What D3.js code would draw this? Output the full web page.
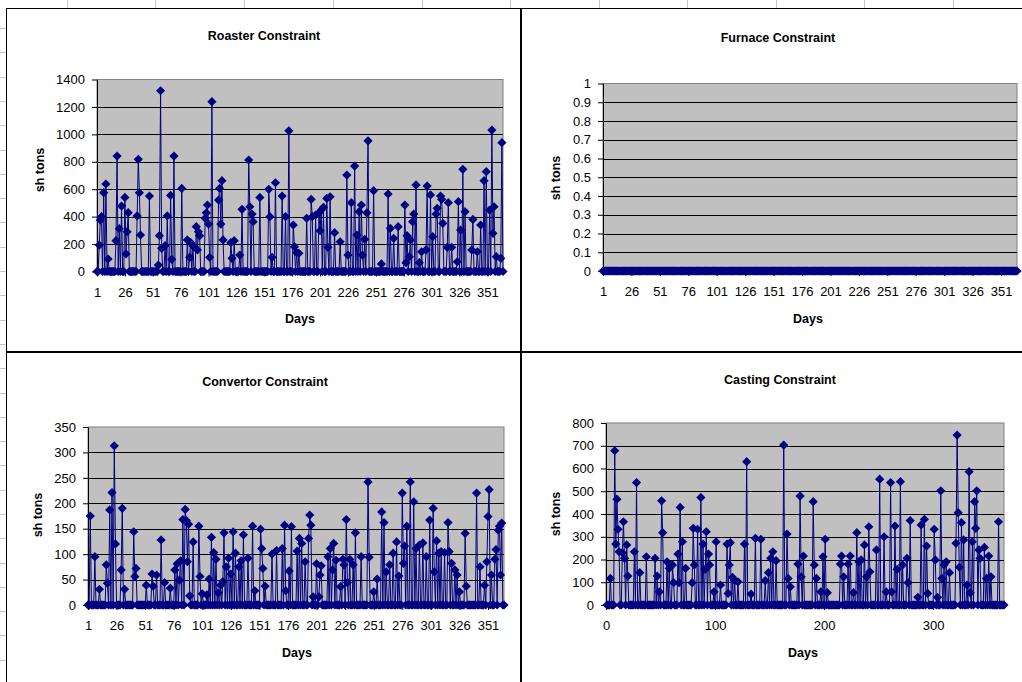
<!DOCTYPE html>
<html lang="en">
<head>
<meta charset="utf-8">
<title>constraints by day</title>
<script src="https://cdn.jsdelivr.net/npm/d3@7"></script>
<style>
  body{margin:0;background:#fff;}
  #chart{width:1022px;height:682px;overflow:hidden;}
</style>
</head>
<body>
<div id="chart"></div>
<script>
// ---- data, one row = 25 days ----
var days = d3.range(1, 366)

var roaster = [
  0,0,193,375,400,0,575,0,638,0,91,0,0,0,0,0,0,225,842,0,312,0,477,0,0,
  540,128,290,429,0,0,0,0,0,0,0,405,818,575,266,0,0,0,0,0,0,0,550,0,0,
  0,0,0,0,0,47,261,1318,169,0,0,188,0,405,0,0,555,89,0,842,0,0,0,0,0,
  0,606,0,0,0,0,230,0,103,210,0,186,0,0,327,157,290,261,0,0,0,0,388,428,485,
  346,103,0,1238,0,0,0,0,0,521,606,346,662,230,0,0,0,0,0,0,210,96,0,225,0,
  0,0,0,120,0,453,0,0,0,0,0,813,472,0,419,363,0,0,0,0,0,540,0,0,0,
  0,0,0,0,599,400,0,103,0,0,647,0,0,0,0,0,550,0,0,400,0,0,1026,0,0,
  0,339,181,0,137,0,133,0,0,0,0,0,0,388,0,0,0,526,400,0,0,412,0,0,428,
  297,448,0,468,0,0,533,176,0,545,0,0,0,283,0,0,0,0,217,0,0,0,0,0,703,
  120,0,0,502,0,0,769,0,266,0,436,0,485,120,0,235,0,428,953,0,0,0,0,589,0,
  0,0,0,0,0,55,0,0,0,0,0,565,0,315,0,0,242,0,0,0,327,0,0,0,0,
  0,485,64,261,0,108,230,0,363,419,0,631,0,0,64,0,144,0,0,0,157,623,0,0,558,
  0,254,0,0,419,461,0,0,550,526,351,0,0,0,176,502,0,0,176,0,0,0,0,71,509,
  0,302,0,745,0,436,0,0,0,0,0,157,380,0,0,0,144,0,0,339,0,0,662,0,728,
  0,0,448,0,1031,278,472,0,108,0,0,0,96,939,0
]

var furnace = [
  0,0,0,0,0,0,0,0,0,0,0,0,0,0,0,0,0,0,0,0,0,0,0,0,0,
  0,0,0,0,0,0,0,0,0,0,0,0,0,0,0,0,0,0,0,0,0,0,0,0,0,
  0,0,0,0,0,0,0,0,0,0,0,0,0,0,0,0,0,0,0,0,0,0,0,0,0,
  0,0,0,0,0,0,0,0,0,0,0,0,0,0,0,0,0,0,0,0,0,0,0,0,0,
  0,0,0,0,0,0,0,0,0,0,0,0,0,0,0,0,0,0,0,0,0,0,0,0,0,
  0,0,0,0,0,0,0,0,0,0,0,0,0,0,0,0,0,0,0,0,0,0,0,0,0,
  0,0,0,0,0,0,0,0,0,0,0,0,0,0,0,0,0,0,0,0,0,0,0,0,0,
  0,0,0,0,0,0,0,0,0,0,0,0,0,0,0,0,0,0,0,0,0,0,0,0,0,
  0,0,0,0,0,0,0,0,0,0,0,0,0,0,0,0,0,0,0,0,0,0,0,0,0,
  0,0,0,0,0,0,0,0,0,0,0,0,0,0,0,0,0,0,0,0,0,0,0,0,0,
  0,0,0,0,0,0,0,0,0,0,0,0,0,0,0,0,0,0,0,0,0,0,0,0,0,
  0,0,0,0,0,0,0,0,0,0,0,0,0,0,0,0,0,0,0,0,0,0,0,0,0,
  0,0,0,0,0,0,0,0,0,0,0,0,0,0,0,0,0,0,0,0,0,0,0,0,0,
  0,0,0,0,0,0,0,0,0,0,0,0,0,0,0,0,0,0,0,0,0,0,0,0,0,
  0,0,0,0,0,0,0,0,0,0,0,0,0,0,0
]

var convertor = [
  0,0,175,0,0,0,95,0,0,0,31,0,0,0,0,0,79,43,0,187,0,221,0,313,120,
  0,0,0,0,69,190,0,31,0,0,0,0,0,0,0,144,56,72,0,0,0,0,0,0,0,
  0,39,0,0,0,0,61,37,0,0,59,0,0,0,128,0,0,44,0,0,0,0,33,0,0,
  0,69,0,81,0,49,87,0,168,0,188,166,85,159,18,0,0,124,0,0,0,0,155,56,0,
  22,0,0,0,20,0,51,0,133,0,103,0,90,0,24,0,39,0,46,142,0,75,0,92,0,
  61,0,144,0,102,0,0,75,0,87,0,138,0,0,0,92,0,0,0,155,0,28,0,0,0,
  0,149,111,72,0,37,0,0,0,0,0,100,0,0,0,107,0,0,0,0,111,0,157,28,0,
  0,67,0,154,0,0,0,0,106,0,131,0,121,0,0,85,0,0,131,177,157,0,16,0,0,
  81,0,16,59,77,0,0,0,0,0,95,0,111,0,69,121,0,88,0,0,0,36,0,90,79,
  0,168,44,0,90,0,0,79,0,142,0,0,0,0,95,0,0,0,0,0,242,94,0,0,0,
  26,0,0,51,0,0,0,183,0,162,0,65,0,0,79,0,0,102,0,0,124,0,57,0,0,
  220,82,116,0,155,0,0,242,0,0,203,0,111,0,0,118,0,0,122,0,0,95,0,0,167,
  0,0,190,65,0,126,0,102,0,105,0,0,103,0,0,162,105,0,82,0,0,69,0,59,0,
  26,0,0,0,0,141,37,0,0,0,0,0,0,0,0,220,0,0,75,0,0,0,39,0,85,
  174,227,0,59,0,0,90,109,0,147,155,59,161,0,0
]

var casting = [
  0,0,0,117,0,0,0,678,268,465,333,234,0,0,230,366,205,0,264,127,0,0,0,0,0,
  234,0,538,0,0,142,0,0,0,0,0,212,0,0,0,0,0,0,0,205,0,127,0,58,0,
  458,318,0,0,0,190,0,161,0,0,176,98,0,0,0,224,98,429,0,278,0,0,161,0,0,
  0,0,0,98,337,176,0,0,333,0,0,473,0,268,0,157,322,0,224,176,0,0,0,58,0,
  278,0,0,0,88,0,0,0,0,0,268,51,176,274,0,122,0,107,0,0,102,0,0,0,0,
  0,268,0,630,0,0,0,48,0,0,0,293,0,0,0,0,289,0,0,0,107,0,0,142,0,
  205,0,234,0,0,195,0,0,0,0,0,0,703,0,0,312,117,0,80,0,0,0,0,0,0,
  180,0,479,124,0,215,0,0,0,0,0,0,0,0,454,176,0,117,0,0,0,58,0,212,0,
  289,0,54,0,0,0,0,0,0,0,0,0,0,0,180,215,0,124,0,0,0,180,0,215,0,
  0,54,0,0,318,0,190,0,198,0,0,264,0,124,0,344,146,0,0,0,0,0,242,0,0,
  553,0,0,0,300,0,58,0,0,0,538,58,0,0,347,0,157,0,0,542,0,176,0,0,0,
  205,98,0,371,0,0,0,0,0,0,34,0,0,352,0,0,377,0,259,51,0,0,0,0,0,
  333,198,0,34,0,0,502,117,0,176,0,190,0,0,142,0,0,0,0,0,271,747,406,166,0,
  362,0,286,0,0,88,0,586,54,0,278,0,454,337,502,0,242,205,0,0,0,253,0,117,0,
  215,0,124,0,0,0,0,0,0,366,0,0,0,0,0
]

// tick values
var dayTicks = [1,26,51,76,101,126,151,176,201,226,251,276,301,326,351]
var castDayTicks = [0,100,200,300]
var roasterTicks = [0,200,400,600,800,1000,1200,1400]
var furnaceTicks = [0,0.1,0.2,0.3,0.4,0.5,0.6,0.7,0.8,0.9,1]
var convertorTicks = [0,50,100,150,200,250,300,350]
var castingTicks = [0,100,200,300,400,500,600,700,800]

// ---- layout ----
var W = 1022, H = 682
var FONT = "Arial, 'Liberation Sans', sans-serif"
var NAVY = "#000080"

var svg = d3.select("#chart").append("svg").attr("width", W).attr("height", H)

// bits of the spreadsheet grid that show around the charts
var colX = [67,155,244,333,422,510,599,687,776,864,953]
colX.forEach(function(cx){
  svg.append("line").attr("x1", cx + .5).attr("x2", cx + .5).attr("y1", 0).attr("y2", 8)
     .attr("stroke", "#c8c8c8")
})
for (var ry = 28; ry < H; ry += 24.3) {
  svg.append("line").attr("x1", 0).attr("x2", 6).attr("y1", Math.round(ry) + .5).attr("y2", Math.round(ry) + .5)
     .attr("stroke", "#c8c8c8")
}

// chart frames (neighbouring frames touch, giving the heavy divider)
var frames = [[6.5,8.5,514,343],[521.5,8.5,520,343],[6.5,352.5,514,340],[521.5,352.5,520,340]]
frames.forEach(function(f){
  svg.append("rect").attr("x", f[0]).attr("y", f[1]).attr("width", f[2]).attr("height", f[3])
     .attr("fill", "#fff").attr("stroke", "#000")
})

var panels = [
  {title:"Roaster Constraint", data:roaster, ticks:roasterTicks, fmt:d3.format("d"),
   box:{l:97, r:503, t:79.5, b:271.5}, titleX:264, titleY:40, ylabX:44, ylabY:170, daysX:300, daysY:323, numX:false},
  {title:"Furnace Constraint", data:furnace, ticks:furnaceTicks, fmt:function(v){ return v === 0 ? "0" : v === 1 ? "1" : d3.format(".1f")(v) },
   box:{l:603, r:1017, t:83.5, b:271}, titleX:778, titleY:42, ylabX:560, ylabY:178, daysX:808, daysY:323, numX:false},
  {title:"Convertor Constraint", data:convertor, ticks:convertorTicks, fmt:d3.format("d"),
   box:{l:88, r:504, t:427, b:605}, titleX:265, titleY:386, ylabX:42, ylabY:515, daysX:297, daysY:657, numX:false},
  {title:"Casting Constraint", data:casting, ticks:castingTicks, fmt:d3.format("d"),
   box:{l:606, r:1004, t:423, b:605}, titleX:780, titleY:384, ylabX:560, ylabY:514, daysX:803, daysY:657, numX:true}
]

var diamond = "M0,-4.6L4.6,0L0,4.6L-4.6,0Z"

panels.forEach(function(p){
  var b = p.box
  var g = svg.append("g")
  var y = d3.scaleLinear().domain([0, p.ticks[p.ticks.length - 1]]).range([b.b, b.t])
  var x = p.numX
    ? d3.scaleLinear().domain([0, 365]).range([b.l, b.r])
    : d3.scalePoint().domain(days).range([b.l, b.r])

  // plot area
  g.append("rect").attr("x", b.l).attr("y", b.t).attr("width", b.r - b.l).attr("height", b.b - b.t)
   .attr("fill", "#c0c0c0").attr("stroke", "#808080")

  // gridlines
  g.selectAll(".grid").data(p.ticks.slice(1, -1)).enter().append("line")
   .attr("x1", b.l).attr("x2", b.r)
   .attr("y1", function(d){ return Math.round(y(d)) + .5 })
   .attr("y2", function(d){ return Math.round(y(d)) + .5 })
   .attr("stroke", "#000")

  // y axis
  var ya = g.append("g").attr("transform", "translate(" + b.l + ",0)")
    .call(d3.axisLeft(y).tickValues(p.ticks).tickFormat(p.fmt).tickSize(5).tickSizeOuter(0).tickPadding(7))
  ya.selectAll("text").attr("font-family", FONT).attr("font-size", 13).attr("fill", "#000")
  ya.selectAll("line,path").attr("stroke", "#000")

  // x axis
  var xaxis = p.numX ? d3.axisBottom(x).tickValues(castDayTicks) : d3.axisBottom(x).tickValues(dayTicks)
  var xa = g.append("g").attr("transform", "translate(0," + b.b + ")")
    .call(xaxis.tickSize(5).tickSizeOuter(0).tickPadding(11))
  xa.selectAll("text").attr("font-family", FONT).attr("font-size", 13).attr("fill", "#000")
  xa.selectAll("line,path").attr("stroke", "#000")

  // series line + markers
  var line = d3.line()
    .x(function(d, i){ return x(days[i]) })
    .y(function(d){ return y(d) })
  g.append("path").datum(p.data).attr("d", line)
   .attr("fill", "none").attr("stroke", NAVY).attr("stroke-width", 1)

  g.selectAll(".pt").data(p.data).enter().append("path")
   .attr("d", diamond)
   .attr("transform", function(d, i){ return "translate(" + x(days[i]) + "," + y(d) + ")" })
   .attr("fill", NAVY)

  // texts
  g.append("text").attr("x", p.titleX).attr("y", p.titleY).attr("text-anchor", "middle")
   .attr("font-family", FONT).attr("font-size", 12.5).attr("font-weight", "bold").text(p.title)
  g.append("text").attr("transform", "translate(" + p.ylabX + "," + p.ylabY + ") rotate(-90)")
   .attr("text-anchor", "middle").attr("font-family", FONT).attr("font-size", 12.5).attr("font-weight", "bold")
   .text("sh tons")
  g.append("text").attr("x", p.daysX).attr("y", p.daysY).attr("text-anchor", "middle")
   .attr("font-family", FONT).attr("font-size", 12.5).attr("font-weight", "bold").text("Days")
})
</script>
</body>
</html>
